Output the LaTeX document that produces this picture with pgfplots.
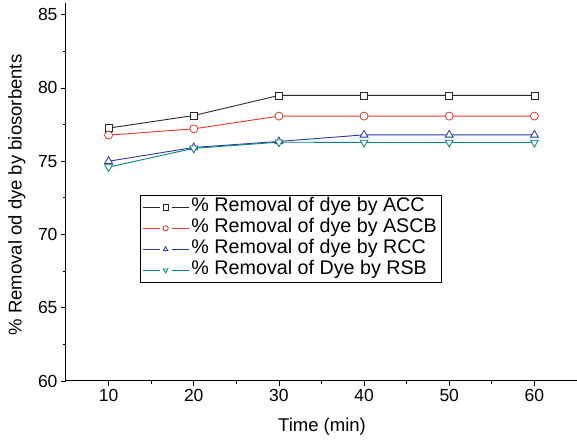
\documentclass[border=0pt]{standalone}
\usepackage{pgfplots}
\pgfplotsset{compat=1.18}
\usepackage{fontspec}
\setmainfont{Liberation Sans}
\definecolor{cACC}{RGB}{40,40,40}
\definecolor{cASCB}{RGB}{230,55,45}
\definecolor{cRCC}{RGB}{45,55,160}
\definecolor{cRSB}{RGB}{0,130,130}
\begin{document}
\begin{tikzpicture}
\begin{axis}[
  scale only axis,
  width=511pt, height=378pt,
  xmin=5, xmax=65, ymin=60, ymax=85.8,
  axis lines*=left,
  axis line style={line width=1pt},
  xtick={10,20,...,60}, ytick={60,65,...,85},
  minor tick num=1,
  tick align=outside,
  major tick length=5pt, minor tick length=3pt,
  tick style={line width=0.8pt, black},
  /pgf/number format/assume math mode=true,
  ticklabel style={font=\fontsize{17.5}{20}\selectfont},
  xlabel={Time (min)},
  ylabel={\% Removal od dye by biosorbents},
  label style={font=\fontsize{18.5}{21}\selectfont},
  xlabel style={at={(axis description cs:0.501,-0.122)}, anchor=center},
  ylabel style={at={(axis description cs:-0.096,0.492)}, anchor=center},
  legend cell align=left,
  legend style={at={(axis description cs:0.1448,0.492)}, anchor=north west,
    draw=black, line width=0.6pt, font=\fontsize{19.7}{22}\selectfont,
    inner xsep=2pt, inner ysep=1.5pt, row sep=0pt,
    nodes={inner xsep=2.5pt, inner ysep=0pt, text height=15pt, text depth=6pt}},
  legend image code/.code={
    \draw[line width=0.7pt] (0pt,0pt) -- (17pt,0pt);
    \draw[line width=0.7pt] (29pt,0pt) -- (46pt,0pt);
    \draw[only marks, mark size=2.6pt, line width=0.7pt] plot coordinates {(23pt,0pt)};},
  every axis plot/.append style={line width=0.9pt},
]
\addplot[color=cACC, mark=square*, mark size=3.5pt, mark options={solid, fill=white, line width=0.8pt}] coordinates {(10,77.26) (20,78.12) (30,79.49) (40,79.49) (50,79.49) (60,79.49)};
\addlegendentry{\% Removal of dye by ACC}
\addplot[color=cASCB, mark=*, mark size=4pt, mark options={solid, fill=white, line width=0.8pt}] coordinates {(10,76.78) (20,77.21) (30,78.08) (40,78.08) (50,78.08) (60,78.08)};
\addlegendentry{\% Removal of dye by ASCB}
\addplot[color=cRCC, mark=triangle*, mark size=4.5pt, mark options={solid, fill=white, line width=0.8pt}] coordinates {(10,75.0) (20,75.94) (30,76.35) (40,76.8) (50,76.8) (60,76.8)};
\addlegendentry{\% Removal of dye by RCC}
\addplot[color=cRSB, mark=triangle*, mark size=4.5pt, mark options={solid, fill=white, line width=0.8pt, rotate=180}] coordinates {(10,74.6) (20,75.88) (30,76.3) (40,76.28) (50,76.28) (60,76.28)};
\addlegendentry{\% Removal of Dye by RSB}
\end{axis}
\pgfresetboundingbox
\path (-66pt,-62pt) rectangle (511pt,381pt);
\end{tikzpicture}
\end{document}
